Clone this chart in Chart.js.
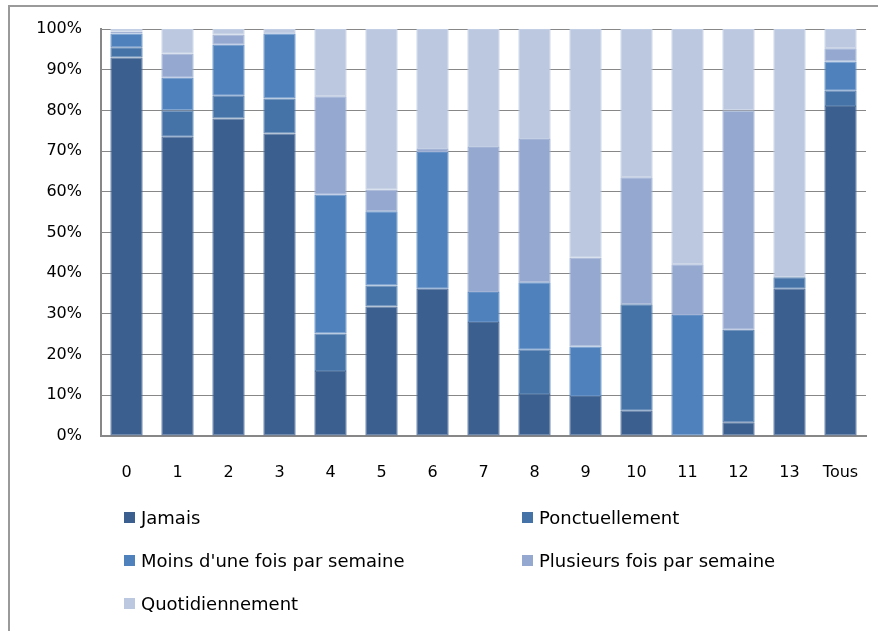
<!DOCTYPE html>
<html lang="fr">
<head>
<meta charset="utf-8">
<title>Fréquence par catégorie</title>
<script src="https://cdn.jsdelivr.net/npm/chart.js@4/dist/chart.umd.min.js"></script>
<style>
  html, body { margin: 0; padding: 0; background: #fff; }
  #wrap { position: relative; width: 878px; height: 631px; overflow: hidden; }
  #frame {
    position: absolute; left: 8px; top: 5px; width: 900px; height: 660px;
    border-left: 2px solid #9a9a9a; border-top: 2px solid #9a9a9a;
    box-sizing: border-box; pointer-events: none;
  }
  #chart { position: absolute; left: 0; top: 0; }
  #legend {
    position: absolute; left: 124px; top: 506px;
    display: grid; grid-template-columns: 398px 300px; grid-auto-rows: 43px;
    font-family: "DejaVu Sans", sans-serif; font-size: 18px; color: #000;
  }
  #legend .item { display: flex; align-items: center; height: 22px; white-space: nowrap; }
  #legend .sw { width: 11px; height: 11px; margin-right: 6px; flex: none; }
</style>
</head>
<body>
<div id="wrap">
  <canvas id="chart" width="878" height="631"></canvas>
  <div id="frame"></div>
  <div id="legend"></div>
</div>
<script>
// Catégories (axe horizontal)
const categories = ['0', '1', '2', '3', '4', '5', '6', '7', '8', '9', '10', '11', '12', '13', 'Tous'];

// Répartition en % pour chaque catégorie
const jamais        = [93.0, 73.5, 78.0, 74.3, 16.0, 31.8, 36.2, 28.0, 10.3,  9.8,  6.2,  0.0,  3.4, 36.2, 81.1];
const ponctuel      = [ 2.5,  6.5,  5.6,  8.6,  9.2,  5.2,  0.0,  0.0, 10.9,  0.0, 26.2,  0.0, 22.7,  2.8,  3.7];
const moinsUneFois  = [ 3.4,  8.0, 12.5, 16.0, 34.1, 18.2, 33.6,  7.4, 16.6, 12.2,  0.0, 29.7,  0.0,  0.0,  7.2];
const plusieursFois = [ 0.4,  5.9,  2.5,  0.1, 24.2,  5.3,  0.7, 35.6, 35.2, 21.8, 31.2, 12.5, 53.9,  0.0,  3.3];
const quotidien     = [ 0.7,  6.1,  1.4,  1.0, 16.5, 39.5, 29.5, 29.0, 27.0, 56.2, 36.4, 57.8, 20.0, 61.0,  4.7];

// Graduations de l'axe vertical
const yTicks = [0, 10, 20, 30, 40, 50, 60, 70, 80, 90, 100];

const seriesNames = ['Jamais', 'Ponctuellement', "Moins d'une fois par semaine", 'Plusieurs fois par semaine', 'Quotidiennement'];
const seriesData = [jamais, ponctuel, moinsUneFois, plusieursFois, quotidien];
const seriesColors = ['#3b5f8f', '#4572a7', '#4f81bd', '#95a9d0', '#bbc8e0'];

// Slightly lighter edge for each bar segment
function tint(hex, k) {
  const n = parseInt(hex.slice(1), 16);
  const c = [(n >> 16) & 255, (n >> 8) & 255, n & 255].map(v => Math.round(v + (255 - v) * k));
  return 'rgb(' + c.join(',') + ')';
}

const datasets = seriesNames.map((name, i) => ({
  label: name,
  data: seriesData[i],
  backgroundColor: seriesColors[i],
  borderColor: tint(seriesColors[i], 0.12),
  borderWidth: 1,
  borderSkipped: false,
  categoryPercentage: 1.0,
  barPercentage: 0.633
}));

const axisFont = { family: '"DejaVu Sans", sans-serif', size: 16 };
const gridGray = '#878787';

const chart = new Chart(document.getElementById('chart'), {
  type: 'bar',
  data: { labels: categories, datasets },
  options: {
    responsive: false,
    animation: false,
    layout: { padding: { top: 29, right: 12, bottom: 0, left: 0 } },
    plugins: { legend: { display: false }, tooltip: { enabled: false } },
    scales: {
      x: {
        stacked: true,
        grid: { display: false, drawTicks: false },
        border: { color: gridGray, width: 2 },
        ticks: { color: '#000', font: axisFont, padding: 27, maxRotation: 0, autoSkip: false },
        afterFit: s => { s.height = 195; s.paddingLeft = 0; s.paddingRight = 0; }
      },
      y: {
        stacked: true,
        min: 0,
        max: 100,
        afterBuildTicks: s => { s.ticks = yTicks.map(v => ({ value: v })); },
        grid: { color: gridGray, lineWidth: 1, drawTicks: false },
        border: { color: gridGray, width: 2 },
        ticks: { color: '#000', font: axisFont, padding: 19, callback: v => v + '%' },
        afterFit: s => { s.width = 101; }
      }
    }
  }
});

// Légende en deux colonnes sous le graphique
const legendEl = document.getElementById('legend');
chart.data.datasets.forEach(ds => {
  const item = document.createElement('div');
  item.className = 'item';
  const sw = document.createElement('span');
  sw.className = 'sw';
  sw.style.background = ds.backgroundColor;
  const txt = document.createElement('span');
  txt.textContent = ds.label;
  item.appendChild(sw);
  item.appendChild(txt);
  legendEl.appendChild(item);
});
</script>
</body>
</html>
